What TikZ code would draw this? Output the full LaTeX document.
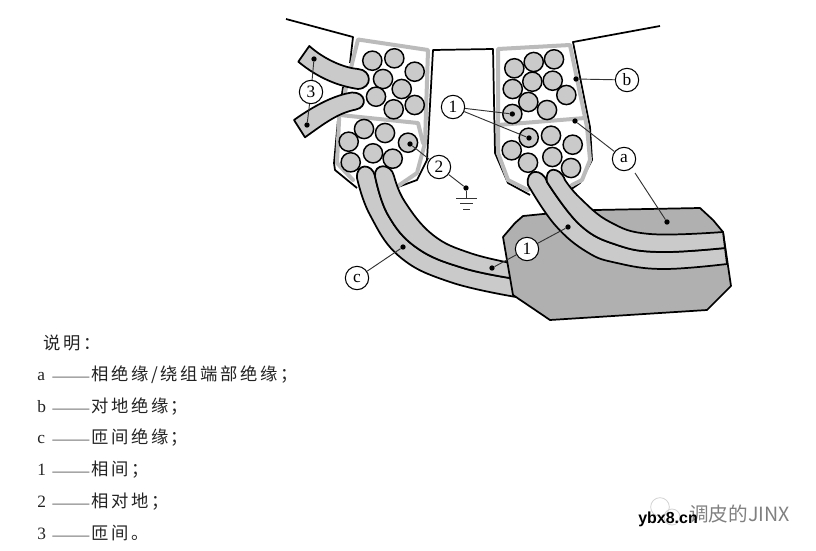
\documentclass[tikz,border=0pt]{standalone}
\usepackage{fontspec}
\setmainfont{Liberation Serif}
\newfontfamily\cjkfont[LetterSpace=15]{Noto Sans CJK SC}
\newfontfamily\cjkplain{Noto Sans CJK SC}
\newfontfamily\wmfont{Liberation Sans}
\newcommand{\lgdrow}[2]{\makebox[10.5pt][l]{#1}\makebox[30pt][l]{\cjkplain\scalebox{1.35}[.6]{——}}{\cjkfont #2}}
\definecolor{stripgrey}{HTML}{CACACA}
\definecolor{blockgrey}{HTML}{B0B0B0}
\definecolor{framegrey}{HTML}{BBBBBB}
\definecolor{txtgrey}{HTML}{222222}
\tikzset{
  wall/.style={line width=1.3pt,black,line join=round},
  frame/.style={line width=3pt,framegrey,line join=round,line cap=round},
  wire/.style={line width=1.1pt,black,fill=stripgrey},
  strip/.style={fill=stripgrey,draw=black,line width=1.3pt,line join=round},
  block/.style={fill=blockgrey,draw=black,line width=1.3pt,line join=round},
  tag/.style={circle,draw=black,fill=white,line width=.8pt,minimum size=17.5pt,inner sep=0pt,font=\fontsize{13}{13}\selectfont},
  pin/.style={circle,fill=black,minimum size=4pt,inner sep=0pt},
  lead/.style={line width=.7pt,black!80},
  lgd/.style={anchor=west,inner sep=0pt,text=txtgrey,font=\fontsize{13}{15}\selectfont},
}
\begin{document}
\begin{tikzpicture}[x=.75pt,y=-.75pt]
\useasboundingbox (0,0) rectangle (816,550);
% stator walls
\draw[wall] (286,19) -- (353,37) -- (350,63) (343,87) -- (338,120) -- (334,163) -- (335,170) -- (357,188);
\draw[wall] (398,187) -- (417,180) -- (427,160) -- (433,50) -- (493,49) -- (495,153) -- (508,183) -- (530,195);
\draw[wall] (570,190) -- (580,183) -- (592,160) -- (590,127) -- (573,42) -- (660,26);
% slot insulation
\draw[frame] (345,92) -- (358,39.5) -- (428,50) -- (425,143) -- (417,173) -- (398,186);
\draw[frame] (340,100) -- (337,163) -- (353,180);
\draw[frame] (340,115) -- (418,123) -- (423,143);
\draw[frame] (528,190) -- (508,180) -- (498,153) -- (498,49) -- (570,45) -- (587,127) -- (590,160) -- (582,180) -- (572,185);
\draw[frame] (498,125) -- (585,118);
% conductors
\foreach \x/\y in {372.3/60.7,394.3/58.3,414.7/71.7,383/79,401.7/89,376/96.7,393.7/109.3,414.7/105,364/129,385/133,348.7/141.7,408/142.7,373/153.3,392.7/158.7,350.7/162.3,
  514.3/68.3,533.7/62,554/59.3,512.7/89,532.3/81.7,552.7/80.7,566.3/95,528.3/102,547/110,512.3/114,528.7/137.7,551/135.7,572.7/144.7,511.7/150.3,528/162.7,552.3/157,571/168}
  \draw[wire] (\x,\y) circle [radius=7.2pt];
% crossing leads
\draw[strip] (309.3,46) .. controls (325,60) and (345,68) .. (358,69) .. controls (372,70) and (373,88) .. (358,89) .. controls (338,86) and (318,78) .. (298.3,61.7) -- cycle;
\draw[strip] (294,120) .. controls (315,105) and (335,95) .. (352,92.5) .. controls (366,92) and (368,107) .. (356,109.5) .. controls (338,113) and (325,123) .. (305,137.3) -- cycle;
% left end-winding
\draw[strip] plot[smooth,tension=.7] coordinates {(357,178) (370,215) (400,257) (450,282) (516,297)} -- plot[smooth,tension=.7] coordinates {(516,279) (463,268) (417,248) (388,215) (375,176)} .. controls (372,163) and (356,163) .. (357,178) -- cycle;
\draw[strip] plot[smooth,tension=.7] coordinates {(375,176) (388,215) (417,248) (463,268) (516,279)} -- plot[smooth,tension=.7] coordinates {(516,264) (470,253) (433,235) (405,202) (394,176)} .. controls (391,163) and (374,163) .. (375,176) -- cycle;
% core block
\draw[block] (503,237) -- (515,223) -- (523,216) -- (543,214) -- (595,210) -- (700,208) -- (713,220) -- (723,232) -- (731,286) -- (707,310) -- (550,320) -- (513,295) -- cycle;
% right end-winding
\draw[strip] plot[smooth,tension=.7] coordinates {(528,185) (555,225) (587,252) (617,263) (663,269) (727,264)} -- plot[smooth,tension=.7] coordinates {(725,248) (660,252) (617,245) (580,225) (547,182)} .. controls (543,168) and (525,168) .. (528,185) -- cycle;
\draw[strip] plot[smooth,tension=.7] coordinates {(547,182) (580,225) (617,245) (660,252) (725,248)} -- plot[smooth,tension=.7] coordinates {(723,232) (650,234) (610,222) (580,198) (565,180)} .. controls (560,166) and (544,166) .. (547,182) -- cycle;
% pins
\node[pin] (p3a) at (314,59) {};
\node[pin] (p3b) at (307,125) {};
\node[pin] (p2a) at (410,144) {};
\node[pin] (p2b) at (466,188) {};
\node[pin] (p1a) at (512.3,114) {};
\node[pin] (p1b) at (529,138) {};
\node[pin] (pb) at (576,79) {};
\node[pin] (pa1) at (575,121) {};
\node[pin] (pa2) at (667,222) {};
\node[pin] (pc) at (403,247) {};
\node[pin] (p1c) at (492,268) {};
\node[pin] (p1d) at (568,227) {};
% tags
\node[tag] (t3) at (311,92) {3};
\node[tag] (t2) at (439,167) {2};
\node[tag] (t1) at (453,107) {1};
\node[tag] (tb) at (627,80) {b};
\node[tag] (ta) at (624,159) {a};
\node[tag] (tc) at (357,278) {c};
\node[tag] (t1low) at (527,249) {1};
\coordinate (agap) at (635,173);
% leaders
\draw[lead] (t3) -- (p3a);
\draw[lead] (t3) -- (p3b);
\draw[lead] (t2) -- (p2a);
\draw[lead] (t2) -- (p2b);
\draw[lead] (t1) -- (p1a);
\draw[lead] (t1) -- (p1b);
\draw[lead] (tb) -- (pb);
\draw[lead] (ta) -- (pa1);
\draw[lead] (agap) -- (pa2);
\draw[lead] (tc) -- (pc);
\draw[lead] (t1low) -- (p1c);
\draw[lead] (t1low) -- (p1d);
% earth symbol
\coordinate (e0) at (466,198);
\draw[lead] (p2b) -- (e0);
\draw[lead] (456,198) -- (477,198) (460,203.5) -- (473,203.5) (463,209) -- (470,209);
% legend
\node[lgd] (title) at (43,343) {\cjkfont 说明：};
\node[lgd] (r1) at (37,375) {\lgdrow{a}{相绝缘/绕组端部绝缘；}};
\node[lgd] (r2) at (37,407) {\lgdrow{b}{对地绝缘；}};
\node[lgd] (r3) at (37,438) {\lgdrow{c}{匝间绝缘；}};
\node[lgd] (r4) at (37,470) {\lgdrow{1}{相间；}};
\node[lgd] (r5) at (37,502) {\lgdrow{2}{相对地；}};
\node[lgd] (r6) at (37,533) {\lgdrow{3}{匝间。}};
% watermark
\draw[black!18,line width=.6pt] (660,507) circle [radius=7pt] (672,517) circle [radius=6pt];
\node[anchor=west,inner sep=0pt,text=black!50,font=\cjkplain\fontsize{14.7}{15}\selectfont] (wm) at (689,514) {调皮的JINX};
\node[anchor=west,inner sep=0pt,text=black,font=\wmfont\bfseries\fontsize{12}{12}\selectfont] (ybx) at (638,519) {ybx8.cn};
\end{tikzpicture}
\end{document}
